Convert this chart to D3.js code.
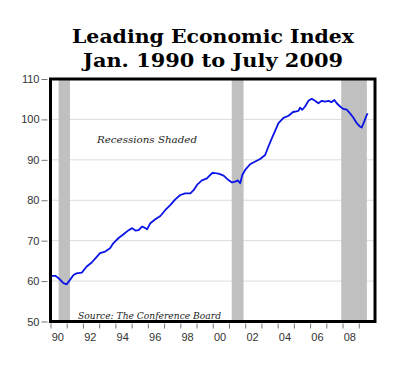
<!DOCTYPE html>
<html>
<head>
<meta charset="utf-8">
<script src="https://cdn.jsdelivr.net/npm/d3@7"></script>
<style>
  body { margin: 0; background: #fff; }
  svg { display: block; }
</style>
</head>
<body>
<script>
"use strict"
const w = 400;
const h = 365;

// chart data
const titleLines = ['Leading Economic Index', 'Jan. 1990 to July 2009'];
const yTicks = [50, 60, 70, 80, 90, 100, 110];
const yearTicks = d3.range(1990, 2010);
const yearLabels = ['90', '92', '94', '96', '98', '00', '02', '04', '06', '08'];
const recStart = [1990.5, 2001.17, 2007.92];
const recEnd = [1991.2, 2001.9, 2009.5];

// index values (year as decimal, value)
const years = [
	1990.0, 1990.08, 1990.3, 1990.5, 1990.8, 1991.0, 1991.2, 1991.42, 1991.6, 1991.93,
	1992.23, 1992.54, 1992.85, 1993.05, 1993.37, 1993.67, 1993.88, 1994.18, 1994.5, 1994.82,
	1995.03, 1995.23, 1995.43, 1995.64, 1995.85, 1995.95, 1996.15, 1996.46, 1996.77, 1997.08,
	1997.38, 1997.69, 1998.0, 1998.3, 1998.62, 1998.82, 1999.03, 1999.33, 1999.64, 1999.85,
	2000.0, 2000.15, 2000.36, 2000.67, 2000.97, 2001.18, 2001.38, 2001.55, 2001.69, 2001.83,
	2002.0, 2002.3, 2002.62, 2002.92, 2003.23, 2003.43, 2003.64, 2003.85, 2004.05, 2004.36,
	2004.67, 2004.97, 2005.08, 2005.28, 2005.38, 2005.52, 2005.69, 2005.9, 2006.1, 2006.3,
	2006.51, 2006.72, 2006.92, 2007.13, 2007.33, 2007.5, 2007.64, 2007.85, 2008.05, 2008.26,
	2008.46, 2008.67, 2008.87, 2009.08, 2009.18, 2009.34, 2009.49, 2009.55
];
const lei = [
	61.2, 61.3, 61.3, 60.7, 59.5, 59.2, 60.3, 61.5, 61.9, 62.1,
	63.6, 64.6, 66.0, 66.9, 67.3, 68.1, 69.4, 70.6, 71.6, 72.6,
	73.1, 72.5, 72.6, 73.5, 73.1, 72.8, 74.3, 75.3, 76.1, 77.6,
	78.8, 80.2, 81.3, 81.7, 81.7, 82.5, 83.8, 84.9, 85.4, 86.3,
	86.8, 86.7, 86.6, 86.1, 85.0, 84.4, 84.6, 84.9, 84.2, 86.3,
	87.5, 88.9, 89.6, 90.2, 91.2, 93.3, 95.3, 97.2, 99.1, 100.4,
	100.9, 101.9, 101.9, 102.1, 102.9, 102.4, 103.2, 104.6, 105.1, 104.6,
	104.0, 104.6, 104.4, 104.6, 104.3, 104.8, 104.0, 103.2, 102.6, 102.4,
	101.5, 100.4, 99.1, 98.2, 98.0, 99.5, 101.1, 101.5
];

const pLeft = 50.5, pRight = 375, pTop = 79, pBottom = 321.5;

const mySvg = d3.select('body')
		.append('svg')
		.attr('width', w)
		.attr('height', h);

mySvg.selectAll('text.title')
	.data(titleLines)
	.enter()
	.append('text')
	.attr('class', 'title')
	.attr('x', 213)
	.attr('y', (d, i) => 43 + i * 23.5)
	.attr('text-anchor', 'middle')
	.attr('font-family', '"DejaVu Serif", serif')
	.attr('font-weight', 'bold')
	.attr('font-size', 19)
	.attr('textLength', (d, i) => i === 0 ? 282 : 260)
	.attr('lengthAdjust', 'spacingAndGlyphs')
	.text(d => d);

const xScale = d3.scaleLinear()
	.domain([1990, 2010])
	.range([pLeft, pRight]);

const yScale = d3.scaleLinear()
	.domain([50, 110])
	.range([pBottom, pTop]);

// grid lines
mySvg.append('g')
	.selectAll('line')
	.data(yTicks.slice(1, -1))
	.enter()
	.append('line')
	.attr('x1', pLeft)
	.attr('x2', pRight)
	.attr('y1', d => yScale(d))
	.attr('y2', d => yScale(d))
	.attr('stroke', '#dcdcdc')
	.attr('stroke-width', 1);

// recession bars
mySvg.append('g')
	.selectAll('rect')
	.data(recStart)
	.enter()
	.append('rect')
	.attr('x', d => xScale(d))
	.attr('width', (d, i) => xScale(recEnd[i]) - xScale(d))
	.attr('y', pTop)
	.attr('height', pBottom - pTop)
	.attr('fill', '#c0c0c0');

const line = d3.line()
	.x((d, i) => xScale(years[i]))
	.y(d => yScale(d));

mySvg.append('path')
	.datum(lei)
	.attr('d', line)
	.attr('fill', 'none')
	.attr('stroke', '#0a14e6')
	.attr('stroke-width', 1.8)
	.attr('stroke-linejoin', 'round');

mySvg.append('text')
	.attr('x', 97)
	.attr('y', 143)
	.attr('font-family', '"DejaVu Serif", serif')
	.attr('font-style', 'italic')
	.attr('font-size', 10)
	.attr('fill', '#222')
	.attr('textLength', 100)
	.attr('lengthAdjust', 'spacingAndGlyphs')
	.text('Recessions Shaded');

mySvg.append('text')
	.attr('x', 78)
	.attr('y', 319)
	.attr('font-family', '"DejaVu Serif", serif')
	.attr('font-style', 'italic')
	.attr('font-size', 10)
	.attr('fill', '#222')
	.attr('textLength', 143)
	.attr('lengthAdjust', 'spacingAndGlyphs')
	.text('Source: The Conference Board');

// axes
const yAxis = d3.axisLeft(yScale)
	.tickValues(yTicks)
	.tickSize(6)
	.tickPadding(2);

const gy = mySvg.append('g')
	.attr('transform', 'translate(' + (pLeft - 3) + ',0)')
	.call(yAxis);

const xAxis = d3.axisBottom(xScale)
	.tickValues(yearTicks)
	.tickSize(5)
	.tickFormat('');

const gx = mySvg.append('g')
	.attr('transform', 'translate(0,' + (pBottom + 2) + ')')
	.call(xAxis);

[gx, gy].forEach(g => {
	g.select('.domain').remove();
	g.selectAll('line').attr('stroke', '#777');
	g.selectAll('text')
		.attr('font-family', '"Liberation Sans", Arial, sans-serif')
		.attr('font-size', 11)
		.attr('fill', '#333');
});

mySvg.append('g')
	.selectAll('text')
	.data(yearLabels)
	.enter()
	.append('text')
	.attr('x', (d, i) => xScale(1990 + i * 2 + 0.45))
	.attr('y', 340.5)
	.attr('text-anchor', 'middle')
	.attr('font-family', '"Liberation Sans", Arial, sans-serif')
	.attr('font-size', 11)
	.attr('fill', '#333')
	.text(d => d);

// frame
mySvg.append('rect')
	.attr('x', pLeft)
	.attr('y', pTop)
	.attr('width', pRight - pLeft)
	.attr('height', pBottom - pTop)
	.attr('fill', 'none')
	.attr('stroke', '#000')
	.attr('stroke-width', 3);
</script>
</body>
</html>
